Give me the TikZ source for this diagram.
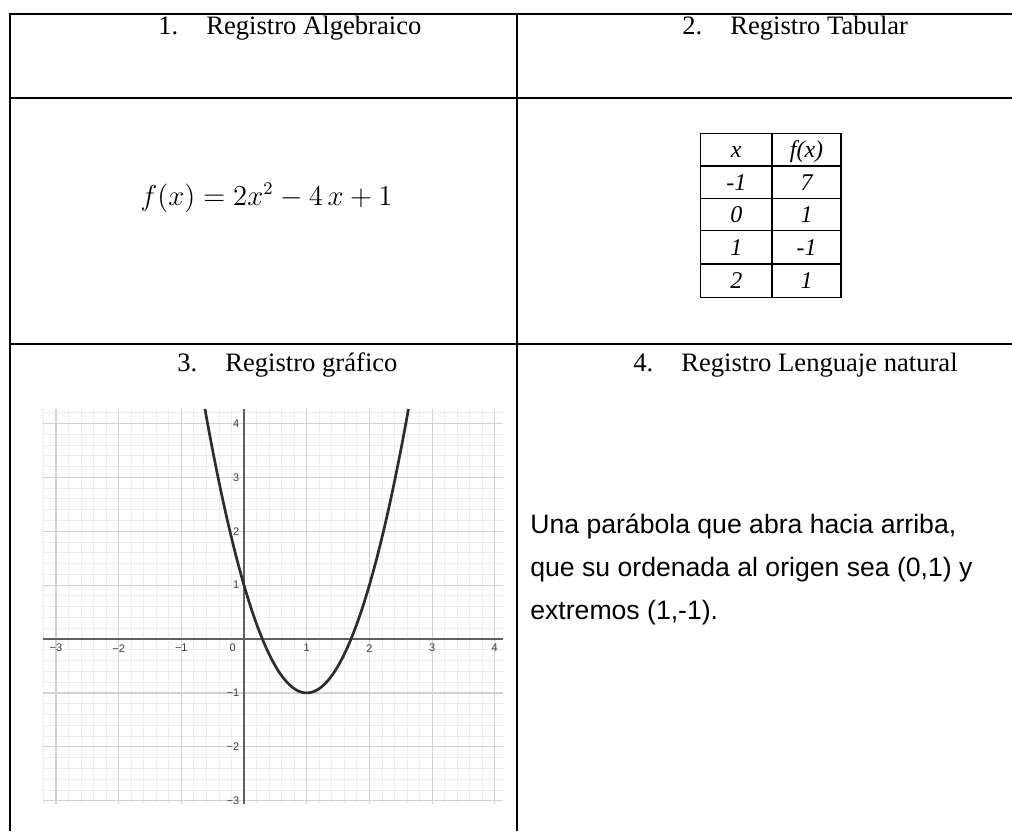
\documentclass[tikz,border=0pt]{standalone}
\usepackage{fontspec}
\setmainfont{Liberation Serif}
\newfontfamily\arialfont{Liberation Sans}
\usetikzlibrary{positioning}
\definecolor{GridMinor}{RGB}{236,236,236}
\definecolor{GridMajor}{RGB}{210,210,210}
\definecolor{AxisGray}{RGB}{95,95,95}
\definecolor{CurveGray}{RGB}{45,45,45}
\definecolor{LabelGray}{RGB}{60,60,60}
\tikzset{
  rule/.style={line width=1pt,black},
  thinrule/.style={line width=0.75pt,black},
  header/.style={anchor=base west,inner sep=0pt,font=\fontsize{13.3}{16}\selectfont},
  cell/.style={anchor=base,inner sep=0pt,font=\fontsize{12}{14}\selectfont\itshape},
  natural/.style={anchor=base west,inner sep=0pt,font=\arialfont\fontsize{13.3}{16}\selectfont},
  ticklabel/.style={inner sep=0pt,text=LabelGray,font=\arialfont\fontsize{5.5}{6}\selectfont}
}
\newcommand{\regnum}[1]{\makebox[24pt][l]{#1}}

\begin{document}
\begin{tikzpicture}[x=0.5pt,y=-0.5pt]
  \useasboundingbox (0,0) rectangle (1012,831);
  % main table
  \draw[rule] (10,831) -- (10,14) -- (1012,14);
  \draw[rule] (517,14) -- (517,831);
  \draw[rule] (10,98) -- (1012,98);
  \draw[rule] (10,344) -- (1012,344);
  % headers
  \node[header] (alg) at (158,34) {\regnum{1.}Registro Algebraico};
  \node[header] (tab) at (682,34) {\regnum{2.}Registro Tabular};
  \node[header] (graf) at (177,371) {\regnum{3.}Registro gráfico};
  \node[header] (leng) at (633,371) {\regnum{4.}Registro Lenguaje natural};
  % algebraic
  \node[anchor=base west,inner sep=0pt,font=\fontsize{13.3}{16}\selectfont] (formula) at (140,205) {$f(x) = 2x^2 - 4\,x + 1$};
  % value table
  \draw[thinrule] (700.7,133.3) rectangle (841,297.7);
  \draw[thinrule] (772,133.3) -- (772,297.7);
  \foreach \y in {166,198.3,230.7,264} \draw[thinrule] (700.7,\y) -- (841,\y);
  \foreach \r/\top/\a/\b in {0/133.3/x/f(x),1/166/-1/7,2/198.3/0/1,3/230.7/1/-1,4/264/2/1} {
    \node[cell] (xv\r) at (736.3,\top+24.4) {\a};
    \node[cell] (fv\r) at (806.5,\top+24.4) {\b};
  }
  % graph
  \begin{scope}[shift={(244,639)},x=31.35pt,y=26.95pt]
    \begin{scope}
      \clip (-3.21,-3.06) rectangle (4.13,4.27);
      \draw[GridMinor,line width=0.4pt,step=0.2] (-3.21,-3.06) grid (4.13,4.27);
      \draw[GridMajor,line width=0.6pt,step=1] (-3.21,-3.06) grid (4.13,4.27);
      \draw[AxisGray,line width=0.6pt] (-3.21,0) -- (4.13,0);
      \draw[AxisGray,line width=0.6pt] (0,-3.06) -- (0,4.27);
      \draw[CurveGray,line width=1.35pt,domain=-0.623:2.623,samples=90] plot (\x,{2*\x*\x-4*\x+1});
    \end{scope}
    \foreach \k/\t in {-3/−3,-2/−2,-1/−1,1/1,2/2,3/3,4/4} {
      \node[ticklabel] (xl\k) at (\k,-0.17) {\t};
      \node[ticklabel,anchor=east] (yl\k) at (-0.07,\k) {\t};
    }
    \node[ticklabel] (zero) at (-0.18,-0.17) {0};
  \end{scope}
  % natural language
  \node[natural] (nl1) at (530,533) {Una parábola que abra hacia arriba,};
  \node[natural] (nl2) at (530,576) {que su ordenada al origen sea (0,1) y};
  \node[natural] (nl3) at (530,619) {extremos (1,-1).};
\end{tikzpicture}
\end{document}
